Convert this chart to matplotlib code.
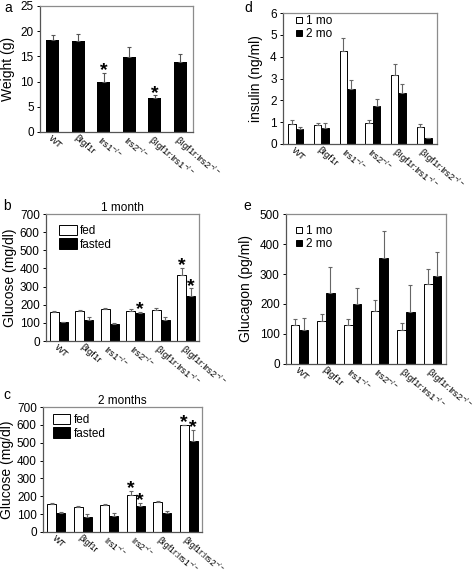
import numpy as np
import matplotlib
matplotlib.use('Agg')
import matplotlib.pyplot as plt
from matplotlib.patches import Rectangle
from matplotlib.lines import Line2D

plt.rcParams['font.family'] = ['Liberation Sans', 'DejaVu Sans']
plt.rcParams['mathtext.default'] = 'regular'

genotypes = ['WT', 'βIgf1r', 'Irs1$^{-/-}$', 'Irs2$^{-/-}$',
             'βIgf1r:Irs1$^{-/-}$', 'βIgf1r:Irs2$^{-/-}$']

# a: body weight
weight = [18.2, 18.0, 10.0, 14.8, 6.7, 13.8]
weight_err = [1.0, 1.4, 1.8, 2.0, 0.6, 1.7]
weight_star = [2, 4]

# b: glucose at 1 month
glu1_fed = [160, 163, 178, 167, 173, 365]
glu1_fed_err = [5, 10, 5, 12, 10, 40]
glu1_fast = [102, 118, 93, 152, 118, 250]
glu1_fast_err = [3, 12, 4, 8, 15, 40]
glu1_star_fed = [5]
glu1_star_fast = [3, 5]

# c: glucose at 2 months
glu2_fed = [157, 140, 152, 207, 168, 600]
glu2_fed_err = [8, 5, 6, 25, 5, 0]
glu2_fast = [105, 82, 92, 148, 105, 510]
glu2_fast_err = [5, 20, 12, 15, 12, 60]
glu2_star_fed = [3, 5]
glu2_star_fast = [3, 5]

# d: insulin
ins_1mo = [0.93, 0.87, 4.25, 0.97, 3.15, 0.80]
ins_1mo_err = [0.17, 0.10, 0.62, 0.15, 0.52, 0.13]
ins_2mo = [0.67, 0.75, 2.50, 1.72, 2.33, 0.28]
ins_2mo_err = [0.10, 0.23, 0.42, 0.33, 0.43, 0.0]

# e: glucagon
gcg_1mo = [130, 142, 130, 178, 113, 268]
gcg_1mo_err = [20, 25, 20, 35, 25, 50]
gcg_2mo = [112, 238, 200, 355, 175, 295]
gcg_2mo_err = [40, 85, 55, 90, 87, 78]

W, H = 477, 579
fig = plt.figure(figsize=(W / 100, H / 100), dpi=100)


def make_ax(left, top, right, bottom):
    ax = fig.add_axes([left / W, 1 - bottom / H, (right - left) / W, (bottom - top) / H])
    for s in ['top', 'right']:
        ax.spines[s].set_color('#8c8c8c')
    ax.spines['left'].set_color('#555555')
    ax.spines['bottom'].set_color('#555555')
    for s in ax.spines.values():
        s.set_linewidth(0.9)
    ax.tick_params(axis='y', labelsize=8.5, length=2.5, width=0.7, pad=2)
    ax.tick_params(axis='x', length=0, pad=1)
    return ax


def set_xlabels(ax, labels, size=6.8):
    ax.set_xticks(range(len(labels)))
    ax.set_xticklabels(labels, rotation=-41, ha='left', va='top', fontsize=size,
                       rotation_mode='anchor')
    ax.set_xlim(-0.5, len(labels) - 0.5)


def paired(ax, v1, e1, v2, e2, w=0.34):
    x = np.arange(len(v1))
    ek = dict(ecolor='#666666', elinewidth=0.8, capsize=1.5, capthick=0.8)
    ax.bar(x - w / 2, v1, w, color='white', edgecolor='black', linewidth=0.7,
           yerr=[np.zeros(len(v1)), e1], error_kw=ek)
    ax.bar(x + w / 2, v2, w, color='black', edgecolor='black', linewidth=0.7,
           yerr=[np.zeros(len(v2)), e2], error_kw=ek)
    return x, w


def stars(ax, xs, vals, errs, off):
    for xi, v, e in zip(xs, vals, errs):
        ax.text(xi, v + e + off, '*', ha='center', va='bottom', fontsize=14,
                fontweight='bold')


def box_legend(ax, anchor):
    ax.legend(handles=[Rectangle((0, 0), 1, 1, fc='white', ec='black', lw=0.7),
                       Rectangle((0, 0), 1, 1, fc='black', ec='black', lw=0.7)],
              labels=['fed', 'fasted'], loc='upper left', frameon=False, fontsize=8.5,
              handlelength=1.5, handleheight=1.0, handletextpad=0.3, labelspacing=0.1,
              borderaxespad=0, borderpad=0, bbox_to_anchor=anchor)


def mo_legend(ax, anchor):
    mk = [Line2D([], [], ls='none', marker='s', ms=5, mfc='white', mec='black', mew=0.7),
          Line2D([], [], ls='none', marker='s', ms=5, mfc='black', mec='black', mew=0.7)]
    ax.legend(handles=mk, labels=['1 mo', '2 mo'], loc='upper left', frameon=False,
              fontsize=8.5, handlelength=0.5, handletextpad=0.3, labelspacing=0.1,
              borderaxespad=0, borderpad=0, bbox_to_anchor=anchor)


# panel a
ax = make_ax(40, 6, 193, 132)
x = np.arange(len(weight))
ax.bar(x, weight, 0.52, color='black', yerr=[np.zeros(6), weight_err],
       error_kw=dict(ecolor='#555555', elinewidth=0.8, capsize=1.5, capthick=0.8))
ax.set_ylim(0, 25)
ax.set_yticks([0, 5, 10, 15, 20, 25])
ax.set_ylabel('Weight (g)', fontsize=10, labelpad=4)
set_xlabels(ax, genotypes)
stars(ax, weight_star, [weight[i] for i in weight_star],
      [weight_err[i] for i in weight_star], -1.3)
fig.text(4 / W, 1 - 8 / H, 'a', fontsize=10, va='center')

# panel b
ax = make_ax(46, 214, 199, 341)
x, w = paired(ax, glu1_fed, glu1_fed_err, glu1_fast, glu1_fast_err, w=0.35)
ax.set_ylim(0, 700)
ax.set_yticks(range(0, 701, 100))
ax.set_ylabel('Glucose (mg/dl)', fontsize=10, labelpad=2)
set_xlabels(ax, genotypes)
stars(ax, [i - w / 2 for i in glu1_star_fed], [glu1_fed[i] for i in glu1_star_fed],
      [glu1_fed_err[i] for i in glu1_star_fed], -35)
stars(ax, [i + w / 2 for i in glu1_star_fast], [glu1_fast[i] for i in glu1_star_fast],
      [glu1_fast_err[i] for i in glu1_star_fast], -35)
ax.set_title('1 month', fontsize=8.5, pad=2)
box_legend(ax, (0.085, 0.915))
fig.text(3 / W, 1 - 206 / H, 'b', fontsize=10, va='center')

# panel c
ax = make_ax(43, 407, 202, 532)
x, w = paired(ax, glu2_fed, glu2_fed_err, glu2_fast, glu2_fast_err, w=0.34)
ax.set_ylim(0, 700)
ax.set_yticks(range(0, 701, 100))
ax.set_ylabel('Glucose (mg/dl)', fontsize=10, labelpad=2)
set_xlabels(ax, genotypes, size=6.2)
stars(ax, [i - w / 2 for i in glu2_star_fed], [glu2_fed[i] for i in glu2_star_fed],
      [glu2_fed_err[i] for i in glu2_star_fed], -35)
stars(ax, [i + w / 2 for i in glu2_star_fast], [glu2_fast[i] for i in glu2_star_fast],
      [glu2_fast_err[i] for i in glu2_star_fast], -35)
ax.set_title('2 months', fontsize=8.5, pad=2)
box_legend(ax, (0.06, 0.945))
fig.text(3 / W, 1 - 395 / H, 'c', fontsize=10, va='center')

# panel d
ax = make_ax(283, 13, 437, 144)
paired(ax, ins_1mo, ins_1mo_err, ins_2mo, ins_2mo_err, w=0.29)
ax.set_ylim(0, 6)
ax.set_yticks(range(0, 7))
ax.set_ylabel('insulin (ng/ml)', fontsize=10, labelpad=5)
set_xlabels(ax, genotypes)
mo_legend(ax, (0.085, 0.985))
fig.text(244 / W, 1 - 8 / H, 'd', fontsize=10, va='center')

# panel e
ax = make_ax(286, 214, 446, 364)
paired(ax, gcg_1mo, gcg_1mo_err, gcg_2mo, gcg_2mo_err, w=0.32)
ax.set_ylim(0, 500)
ax.set_yticks(range(0, 501, 100))
ax.set_ylabel('Glucagon (pg/ml)', fontsize=10, labelpad=5)
set_xlabels(ax, genotypes)
mo_legend(ax, (0.065, 0.925))
fig.text(243 / W, 1 - 206 / H, 'e', fontsize=10, va='center')

fig.savefig('out.png', dpi=100)
